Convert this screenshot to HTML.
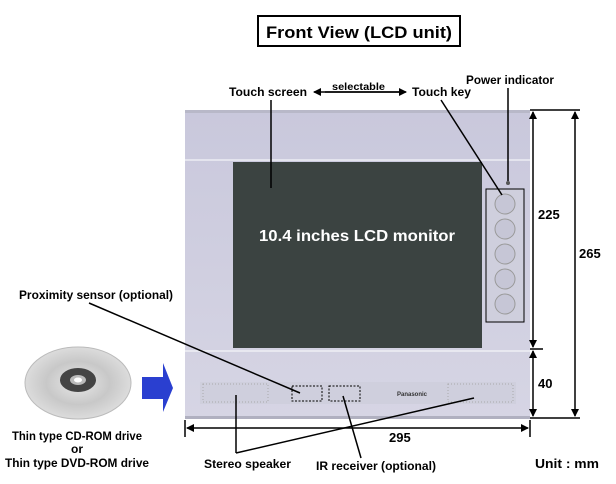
<!DOCTYPE html>
<html><head><meta charset="utf-8"><style>
html,body{margin:0;padding:0;background:#fff;}
svg{display:block;font-family:"Liberation Sans",sans-serif;font-weight:bold;}
</style></head><body>
<svg width="616" height="484" viewBox="0 0 616 484" xmlns="http://www.w3.org/2000/svg">
<defs>
<marker id="a" markerWidth="8" markerHeight="8" refX="7" refY="4" orient="auto" markerUnits="userSpaceOnUse"><path d="M0,0 L8,4 L0,8z" fill="#000"/></marker>
<linearGradient id="g" x1="0" y1="0" x2="0" y2="1"><stop offset="0" stop-color="#c9c8dc"/><stop offset="1" stop-color="#d6d5e4"/></linearGradient>
<radialGradient id="cd"><stop offset="0" stop-color="#e8e8e8"/><stop offset="0.6" stop-color="#c8c8c8"/><stop offset="1" stop-color="#dcdcdc"/></radialGradient>
</defs>
<rect x="258" y="16" width="202" height="30" fill="#fff" stroke="#000" stroke-width="2"/>
<text x="359" y="38" font-size="17" text-anchor="middle" textLength="186" lengthAdjust="spacingAndGlyphs">Front View (LCD unit)</text>
<rect x="185" y="110" width="345" height="309" fill="url(#g)"/>
<rect x="185" y="110" width="345" height="3" fill="#b8b8c8"/>
<rect x="185" y="159" width="345" height="2" fill="#e4e4ee"/>
<rect x="233" y="162" width="249" height="186" fill="#3b4341"/>
<rect x="185" y="350" width="345" height="2" fill="#e8e8f0"/>
<rect x="200" y="382" width="316" height="22" fill="#cfcfdd"/>
<rect x="185" y="416" width="345" height="3" fill="#b0b0c0"/>
<rect x="203" y="384" width="65" height="18" fill="none" stroke="#aaa" stroke-dasharray="1,2"/>
<rect x="448" y="384" width="65" height="18" fill="none" stroke="#aaa" stroke-dasharray="1,2"/>
<text x="412" y="396" font-size="6" fill="#333" text-anchor="middle">Panasonic</text>
<rect x="292" y="386" width="30" height="15" fill="none" stroke="#000" stroke-dasharray="2,1.5"/>
<rect x="329" y="386" width="31" height="15" fill="none" stroke="#000" stroke-dasharray="2,1.5"/>
<rect x="486" y="189" width="38" height="133" fill="#cfcfdd" stroke="#000"/>
<g fill="#c6c6d6" stroke="#999"><circle cx="505" cy="204" r="10"/><circle cx="505" cy="229" r="10"/><circle cx="505" cy="254" r="10"/><circle cx="505" cy="279" r="10"/><circle cx="505" cy="304" r="10"/></g>
<circle cx="508" cy="183" r="2" fill="#555"/>
<text x="357" y="241" font-size="16" fill="#fff" text-anchor="middle" textLength="196" lengthAdjust="spacingAndGlyphs">10.4 inches LCD monitor</text>
<g font-size="12" lengthAdjust="spacingAndGlyphs">
<text x="229" y="96" textLength="78" lengthAdjust="spacingAndGlyphs">Touch screen</text>
<text x="412" y="96" textLength="59" lengthAdjust="spacingAndGlyphs">Touch key</text>
<text x="466" y="84" textLength="88" lengthAdjust="spacingAndGlyphs">Power indicator</text>
<text x="332" y="90" font-size="10" textLength="53" lengthAdjust="spacingAndGlyphs">selectable</text>
<text x="19" y="299" textLength="154" lengthAdjust="spacingAndGlyphs">Proximity sensor (optional)</text>
<text x="77" y="440" text-anchor="middle" textLength="130" lengthAdjust="spacingAndGlyphs">Thin type CD-ROM drive</text>
<text x="77" y="453" text-anchor="middle">or</text>
<text x="77" y="467" text-anchor="middle" textLength="144" lengthAdjust="spacingAndGlyphs">Thin type DVD-ROM drive</text>
<text x="204" y="468" textLength="87" lengthAdjust="spacingAndGlyphs">Stereo speaker</text>
<text x="316" y="470" textLength="120" lengthAdjust="spacingAndGlyphs">IR receiver (optional)</text>
<text x="535" y="468" font-size="13" textLength="64" lengthAdjust="spacingAndGlyphs">Unit : mm</text>
<text x="538" y="219" font-size="13">225</text>
<text x="579" y="258" font-size="13">265</text>
<text x="538" y="388" font-size="13">40</text>
<text x="389" y="442" font-size="13">295</text>
</g>
<g stroke="#000" stroke-width="1.5" fill="none">
<line x1="325" y1="92" x2="406" y2="92" marker-end="url(#a)"/>
<line x1="400" y1="92" x2="314" y2="92" marker-end="url(#a)"/>
<line x1="271" y1="100" x2="271" y2="188"/>
<line x1="441" y1="100" x2="502" y2="195"/>
<line x1="508" y1="88" x2="508" y2="181"/>
<line x1="89" y1="303" x2="300" y2="393"/>
<line x1="236" y1="395" x2="236" y2="453"/>
<line x1="236" y1="453" x2="474" y2="398"/>
<line x1="343" y1="396" x2="361" y2="458"/>
<line x1="530" y1="110" x2="580" y2="110"/>
<line x1="530" y1="349" x2="543" y2="349"/>
<line x1="530" y1="418" x2="580" y2="418"/>
<line x1="533" y1="230" x2="533" y2="112" marker-end="url(#a)"/>
<line x1="533" y1="230" x2="533" y2="347" marker-end="url(#a)"/>
<line x1="533" y1="385" x2="533" y2="351" marker-end="url(#a)"/>
<line x1="533" y1="385" x2="533" y2="416" marker-end="url(#a)"/>
<line x1="575" y1="260" x2="575" y2="112" marker-end="url(#a)"/>
<line x1="575" y1="260" x2="575" y2="416" marker-end="url(#a)"/>
<line x1="185" y1="420" x2="185" y2="437"/>
<line x1="530" y1="420" x2="530" y2="437"/>
<line x1="350" y1="428" x2="187" y2="428" marker-end="url(#a)"/>
<line x1="350" y1="428" x2="528" y2="428" marker-end="url(#a)"/>
</g>
<ellipse cx="78" cy="383" rx="53" ry="36" fill="url(#cd)" stroke="#bbb"/>
<ellipse cx="78" cy="380" rx="18" ry="12" fill="#444"/>
<ellipse cx="78" cy="380" rx="8" ry="5" fill="#bbb"/>
<ellipse cx="78" cy="380" rx="4" ry="2.5" fill="#fff"/>
<path d="M142,377 L163,377 L163,363 L173,388 L163,412 L163,399 L142,399z" fill="#2a3fd0"/>
</svg>
</body></html>
